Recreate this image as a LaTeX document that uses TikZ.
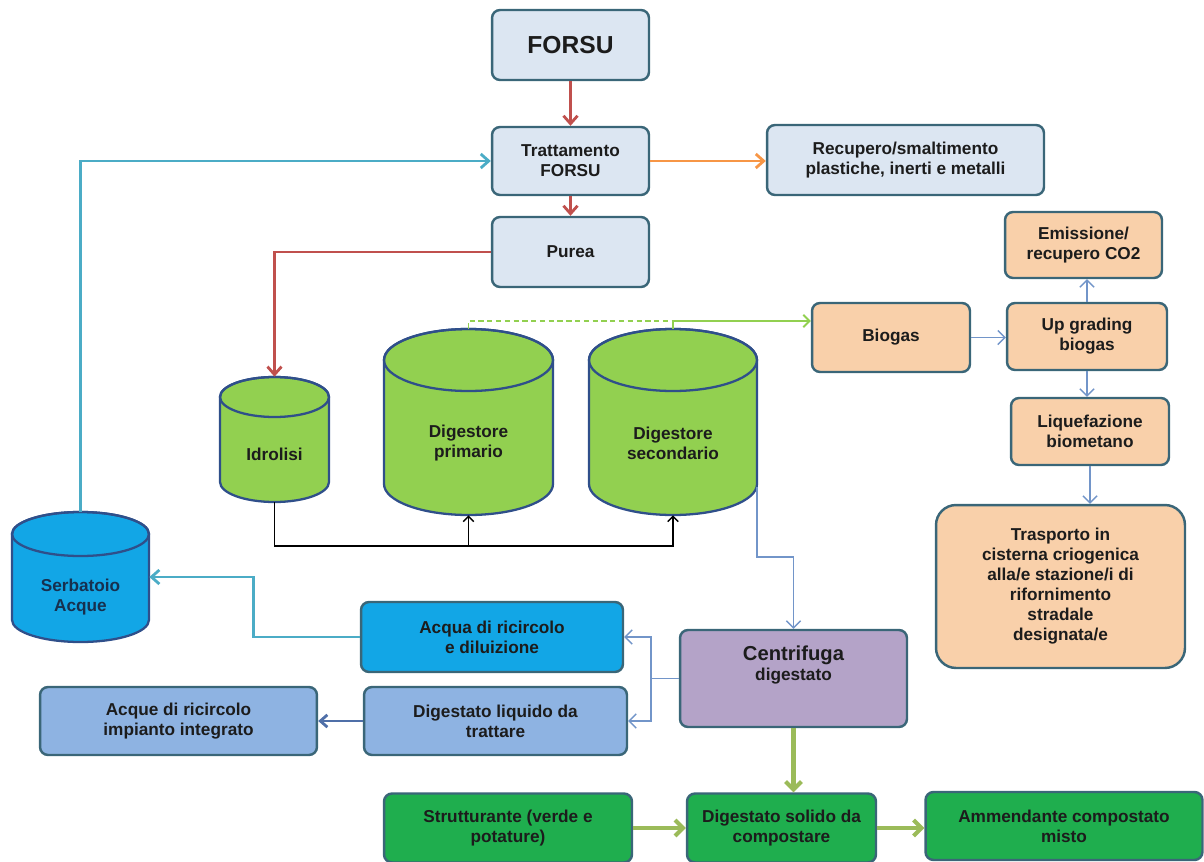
\documentclass[tikz,border=0pt]{standalone}
\usepackage{fontspec}
\setmainfont{Liberation Sans}
\usetikzlibrary{arrows.meta}

\definecolor{boxline}{HTML}{3A6678}
\definecolor{darktext}{HTML}{1C1C1C}
\definecolor{serbtext}{HTML}{17304F}
\definecolor{lightfill}{HTML}{DCE6F2}
\definecolor{peachfill}{HTML}{F9D0AA}
\definecolor{waterfill}{HTML}{12A6E6}
\definecolor{liquidfill}{HTML}{8EB3E2}
\definecolor{lilacfill}{HTML}{B4A3C8}
\definecolor{compfill}{HTML}{1FAE4E}
\definecolor{tankgreen}{HTML}{92D050}
\definecolor{tankline}{HTML}{2F4F8A}
\definecolor{redline}{HTML}{C0504D}
\definecolor{orangeline}{HTML}{F79646}
\definecolor{aqualine}{HTML}{4BACC6}
\definecolor{oliveline}{HTML}{9BBB59}
\definecolor{steelline}{HTML}{7295C9}
\definecolor{navyline}{HTML}{4F6FA8}
\definecolor{gasline}{HTML}{92D050}

% vertical tank: fill, centre x, half width, top y, bottom y, ellipse radius
\newcommand{\drum}[6]{%
  \filldraw[fill=#1, draw=tankline, line width=1.3pt]
    (#2-#3,#4) -- (#2-#3,#5) arc[start angle=180, end angle=0, x radius=#3, y radius=#6]
    -- (#2+#3,#4) arc[start angle=0, end angle=-180, x radius=#3, y radius=#6] -- cycle;
  \draw[tankline, line width=1.3pt] (#2,#4) ellipse[x radius=#3, y radius=#6];
}

\begin{document}
\begin{tikzpicture}[x=0.02cm, y=-0.02cm,
    box/.style={draw=boxline, line width=1.4pt, rounded corners=0.16cm, align=center, inner sep=2pt, text=darktext, font=\fontsize{9.8}{11.4}\selectfont\bfseries},
    lightbox/.style={box, fill=lightfill},
    gasbox/.style={box, fill=peachfill},
    waterbox/.style={box, fill=waterfill},
    liquidbox/.style={box, fill=liquidfill},
    centbox/.style={box, fill=lilacfill},
    compbox/.style={box, fill=compfill},
    tankframe/.style={inner sep=0pt},
    tanklabel/.style={align=center, text=darktext, font=\fontsize{9.8}{11.4}\selectfont\bfseries},
    redarrow/.style={draw=redline, line width=1.6pt, -{Straight Barb[length=4.5pt,width=8pt]}},
    orangearrow/.style={draw=orangeline, line width=1.6pt, -{Straight Barb[length=4.5pt,width=8pt]}},
    aquaarrow/.style={draw=aqualine, line width=1.6pt, -{Straight Barb[length=4.5pt,width=8pt]}},
    olivearrow/.style={draw=oliveline, line width=2.3pt, -{Straight Barb[length=4.5pt,width=9pt]}},
    steelarrow/.style={draw=steelline, line width=0.8pt, -{Straight Barb[length=4pt,width=8pt]}},
    navyarrow/.style={draw=navyline, line width=1.6pt, -{Straight Barb[length=4pt,width=7pt]}},
    gasarrow/.style={draw=gasline, line width=1.1pt},
    blackarrow/.style={draw=black, line width=0.8pt, -{Straight Barb[length=3pt,width=6pt]}}]
    \useasboundingbox (0,0) rectangle (1204,862);

    %tanks
    \drum{tankgreen}{274.5}{54.5}{397}{482}{20}
    \drum{tankgreen}{468.5}{84.5}{360}{484}{31}
    \drum{tankgreen}{673}{84}{360}{484}{31}
    \drum{waterfill}{80.5}{68.5}{534}{620}{22}
    \node[tankframe, minimum width=2.18cm, minimum height=2.5cm] (idro) at (274.5,439.5) {};
    \node[tankframe, minimum width=3.38cm, minimum height=3.72cm] (prim) at (468.5,422) {};
    \node[tankframe, minimum width=3.36cm, minimum height=3.72cm] (sec) at (673,422) {};
    \node[tankframe, minimum width=2.74cm, minimum height=2.6cm] (serb) at (80.5,577) {};
    \node[tanklabel] (idrolbl) at (274.5,454) {Idrolisi};
    \node[tanklabel] (primlbl) at (468.5,443) {Digestore\\primario};
    \node[tanklabel] (seclbl) at (673,443) {Digestore\\secondario};
    \node[tanklabel, text=serbtext] (serblbl) at (80.5,597) {Serbatoio\\Acque};
    \coordinate (secout) at (757,487);
    \coordinate (bus) at (274.5,546);
    \coordinate (gasjoin) at (673,321);

    %nodes
    \node[lightbox, minimum width=3.14cm, minimum height=1.4cm, font=\fontsize{14}{16}\selectfont\bfseries] (forsu) at (570.5,45) {FORSU};
    \node[lightbox, minimum width=3.14cm, minimum height=1.36cm] (tratt) at (570.5,161) {Trattamento\\FORSU};
    \node[lightbox, minimum width=3.14cm, minimum height=1.4cm] (purea) at (570.5,252) {Purea};
    \node[lightbox, minimum width=5.54cm, minimum height=1.4cm] (recup) at (905.5,160) {Recupero/smaltimento\\plastiche, inerti e metalli};
    \node[gasbox, minimum width=3.14cm, minimum height=1.32cm] (emiss) at (1083.5,245) {Emissione/\\recupero CO2};
    \node[gasbox, minimum width=3.16cm, minimum height=1.38cm] (biogas) at (891,337.5) {Biogas};
    \node[gasbox, minimum width=3.2cm, minimum height=1.34cm] (upgr) at (1087,336.5) {Up grading\\biogas};
    \node[gasbox, minimum width=3.16cm, minimum height=1.34cm] (liquef) at (1090,431.5) {Liquefazione\\biometano};
    \node[gasbox, minimum width=4.98cm, minimum height=3.26cm, rounded corners=0.4cm] (trasp) at (1060.5,586.5) {Trasporto in\\cisterna criogenica\\alla/e stazione/i di\\rifornimento\\stradale\\designata/e};
    \node[waterbox, minimum width=5.24cm, minimum height=1.4cm] (acqua) at (492,637) {Acqua di ricircolo\\e diluizione};
    \node[liquidbox, minimum width=5.26cm, minimum height=1.36cm] (liquido) at (495.5,721) {Digestato liquido da\\trattare};
    \node[liquidbox, minimum width=5.54cm, minimum height=1.36cm] (acque) at (178.5,721) {Acque di ricircolo\\impianto integrato};
    \node[centbox, minimum width=4.54cm, minimum height=1.94cm] (centr) at (793.5,678.5) {{\fontsize{11.5}{13}\selectfont Centrifuga}\\digestato\\[6pt]};
    \node[compbox, minimum width=4.96cm, minimum height=1.38cm] (strutt) at (508,828) {Strutturante (verde e\\potature)};
    \node[compbox, minimum width=3.78cm, minimum height=1.38cm] (solido) at (781.5,828) {Digestato solido da\\compostare};
    \node[compbox, minimum width=5.54cm, minimum height=1.36cm] (ammend) at (1064,826) {Ammendante compostato\\misto};

    %edges
    \draw[redarrow] (forsu) -- (tratt);
    \draw[redarrow] (tratt) -- (purea);
    \draw[redarrow] (purea.west) -| (idro.north);
    \draw[orangearrow] (tratt.east) -- (recup.west |- tratt.east);
    \draw[aquaarrow] (serb.north) |- (tratt.west);
    \draw[blackarrow] (idro.south) |- (sec.south |- bus) -- (sec.south);
    \draw[blackarrow] (prim.south |- bus) -- (prim.south);
    \draw[gasarrow, densely dashed] (prim.north) |- (gasjoin);
    \draw[gasarrow] (sec.north) -- (gasjoin);
    \draw[gasarrow, -{Straight Barb[length=3.5pt,width=7pt]}] (gasjoin) -- (biogas.west |- gasjoin);
    \draw[steelarrow] (biogas.east) -- (upgr.west |- biogas.east);
    \draw[steelarrow] (upgr.north) -- (upgr.north |- emiss.south);
    \draw[steelarrow] (upgr.south) -- (upgr.south |- liquef.north);
    \draw[steelarrow] (liquef.south) -- (liquef.south |- trasp.north);
    \draw[steelarrow] (secout) -- ++(0,70) -| (centr.north);
    \draw[steelarrow] (centr.west) -- ++(-28,0) |- (acqua.east);
    \draw[steelarrow] (centr.west) -- ++(-28,0) |- (liquido.east);
    \draw[aquaarrow] (acqua.west) -- ++(-106,0) |- (serb.east);
    \draw[navyarrow] (liquido.west) -- (acque.east);
    \draw[olivearrow] (centr.south) -- (centr.south |- solido.north);
    \draw[olivearrow] (strutt.east) -- (solido.west);
    \draw[olivearrow] (solido.east) -- (solido.east -| ammend.west);
\end{tikzpicture}
\end{document}
